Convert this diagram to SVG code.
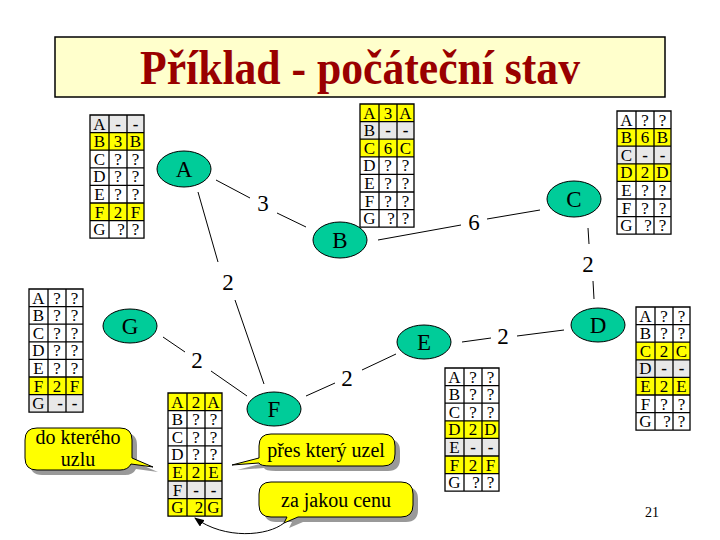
<svg xmlns="http://www.w3.org/2000/svg" width="720" height="540" viewBox="0 0 720 540" font-family="Liberation Serif, Times New Roman, serif">
<style>
.t{font-size:17px;text-anchor:middle;fill:#000}
.d{font-weight:bold}
.grid{fill:none;stroke:#000;stroke-width:1.3}
.y{fill:#ffff00}
.g{fill:#e8e8e8}
.w{fill:#fff}
.node{fill:#00cc99;stroke:#000;stroke-width:1}
.nl{font-size:23px;text-anchor:middle}
.edge{stroke:#000;stroke-width:1;fill:none}
.el{font-size:23px;text-anchor:middle}
.co{fill:#ffff00;stroke:#000;stroke-width:1}
.sh{fill:#999}
.ct{font-size:20px;text-anchor:middle}
</style>
<defs>
<path id="grid" d="M0 0H54V123.2H0Z M19 0V123.2 M37 0V123.2 M0 17.6H54 M0 35.2H54 M0 52.8H54 M0 70.4H54 M0 88H54 M0 105.6H54"/>
<marker id="arr" markerWidth="10" markerHeight="8" refX="9" refY="4" orient="auto" markerUnits="userSpaceOnUse">
<path d="M0 0L10 4L0 8Z" fill="#000"/>
</marker>
</defs>
<rect width="720" height="540" fill="#fff"/>
<g id="title">
<rect x="55" y="37" width="610" height="60" fill="#ffffcc" stroke="#000" stroke-width="1.5"/>
<text x="360" y="84" font-family="Liberation Serif, Times New Roman, serif" font-size="48" font-weight="bold" fill="#990000" text-anchor="middle" textLength="440" lengthAdjust="spacingAndGlyphs">Příklad - počáteční stav</text>
</g>
<g id="connectors">
<line class="edge" x1="216" y1="180" x2="250" y2="198"/>
<line class="edge" x1="277" y1="213" x2="306" y2="227"/>
<text class="el" x="263" y="211">3</text>
<line class="edge" x1="198" y1="192" x2="218" y2="262"/>
<line class="edge" x1="235" y1="300" x2="264" y2="384"/>
<text class="el" x="228" y="290">2</text>
<line class="edge" x1="378" y1="240" x2="461" y2="225"/>
<line class="edge" x1="487" y1="219" x2="540" y2="210"/>
<text class="el" x="474" y="230">6</text>
<line class="edge" x1="588" y1="228" x2="589" y2="244"/>
<line class="edge" x1="593" y1="281" x2="594" y2="299"/>
<text class="el" x="588" y="272">2</text>
<line class="edge" x1="462" y1="342" x2="491" y2="338"/>
<line class="edge" x1="517" y1="336" x2="564" y2="330"/>
<text class="el" x="503" y="344">2</text>
<line class="edge" x1="306" y1="396" x2="335" y2="383"/>
<line class="edge" x1="362" y1="370" x2="396" y2="354"/>
<text class="el" x="347" y="386">2</text>
<line class="edge" x1="163" y1="337" x2="185" y2="352"/>
<line class="edge" x1="211" y1="371" x2="247" y2="396"/>
<text class="el" x="197" y="368">2</text>
</g>
<g id="nodes">
<g id="node-A"><ellipse class="node" cx="184" cy="169" rx="27" ry="18"/><text class="nl" x="184" y="177">A</text></g>
<g id="node-B"><ellipse class="node" cx="340" cy="240" rx="27" ry="18"/><text class="nl" x="340" y="248">B</text></g>
<g id="node-C"><ellipse class="node" cx="574" cy="199" rx="27" ry="18"/><text class="nl" x="574" y="207">C</text></g>
<g id="node-D"><ellipse class="node" cx="598" cy="325" rx="27" ry="17"/><text class="nl" x="598" y="333">D</text></g>
<g id="node-E"><ellipse class="node" cx="424" cy="342" rx="27" ry="17"/><text class="nl" x="424" y="350">E</text></g>
<g id="node-G"><ellipse class="node" cx="130" cy="326" rx="27" ry="17"/><text class="nl" x="130" y="334">G</text></g>
<g id="node-F"><ellipse class="node" cx="274" cy="409" rx="27" ry="17"/><text class="nl" x="274" y="417">F</text></g>
</g>
<g id="tables">
<g id="table-A" transform="translate(90,115)">
<rect class="w" width="54" height="123.2"/>
<rect class="g" y="0" width="54" height="17.6"/>
<rect class="y" y="17.6" width="54" height="17.6"/>
<rect class="y" y="88" width="54" height="17.6"/>
<use href="#grid" class="grid"/>
<text class="t" y="14.5"><tspan x="9.5">A</tspan><tspan x="28" class="d">-</tspan><tspan x="45.5" class="d">-</tspan></text>
<text class="t" y="32.1"><tspan x="9.5">B</tspan><tspan x="28">3</tspan><tspan x="45.5">B</tspan></text>
<text class="t" y="49.7"><tspan x="9.5">C</tspan><tspan x="28">?</tspan><tspan x="45.5">?</tspan></text>
<text class="t" y="67.3"><tspan x="9.5">D</tspan><tspan x="28">?</tspan><tspan x="45.5">?</tspan></text>
<text class="t" y="84.9"><tspan x="9.5">E</tspan><tspan x="28">?</tspan><tspan x="45.5">?</tspan></text>
<text class="t" y="102.5"><tspan x="9.5">F</tspan><tspan x="28">2</tspan><tspan x="45.5">F</tspan></text>
<text class="t" y="120.1"><tspan x="9.5">G</tspan><tspan x="31">?</tspan><tspan x="45.5">?</tspan></text>
</g>

<g id="table-B" transform="translate(360,104)">
<rect class="w" width="54" height="123.2"/>
<rect class="y" y="0" width="54" height="17.6"/>
<rect class="g" y="17.6" width="54" height="17.6"/>
<rect class="y" y="35.2" width="54" height="17.6"/>
<use href="#grid" class="grid"/>
<text class="t" y="14.5"><tspan x="9.5">A</tspan><tspan x="28">3</tspan><tspan x="45.5">A</tspan></text>
<text class="t" y="32.1"><tspan x="9.5">B</tspan><tspan x="28" class="d">-</tspan><tspan x="45.5" class="d">-</tspan></text>
<text class="t" y="49.7"><tspan x="9.5">C</tspan><tspan x="28">6</tspan><tspan x="45.5">C</tspan></text>
<text class="t" y="67.3"><tspan x="9.5">D</tspan><tspan x="28">?</tspan><tspan x="45.5">?</tspan></text>
<text class="t" y="84.9"><tspan x="9.5">E</tspan><tspan x="28">?</tspan><tspan x="45.5">?</tspan></text>
<text class="t" y="102.5"><tspan x="9.5">F</tspan><tspan x="28">?</tspan><tspan x="45.5">?</tspan></text>
<text class="t" y="120.1"><tspan x="9.5">G</tspan><tspan x="31">?</tspan><tspan x="45.5">?</tspan></text>
</g>

<g id="table-C" transform="translate(617,111)">
<rect class="w" width="54" height="123.2"/>
<rect class="y" y="17.6" width="54" height="17.6"/>
<rect class="g" y="35.2" width="54" height="17.6"/>
<rect class="y" y="52.8" width="54" height="17.6"/>
<use href="#grid" class="grid"/>
<text class="t" y="14.5"><tspan x="9.5">A</tspan><tspan x="28">?</tspan><tspan x="45.5">?</tspan></text>
<text class="t" y="32.1"><tspan x="9.5">B</tspan><tspan x="28">6</tspan><tspan x="45.5">B</tspan></text>
<text class="t" y="49.7"><tspan x="9.5">C</tspan><tspan x="28" class="d">-</tspan><tspan x="45.5" class="d">-</tspan></text>
<text class="t" y="67.3"><tspan x="9.5">D</tspan><tspan x="28">2</tspan><tspan x="45.5">D</tspan></text>
<text class="t" y="84.9"><tspan x="9.5">E</tspan><tspan x="28">?</tspan><tspan x="45.5">?</tspan></text>
<text class="t" y="102.5"><tspan x="9.5">F</tspan><tspan x="28">?</tspan><tspan x="45.5">?</tspan></text>
<text class="t" y="120.1"><tspan x="9.5">G</tspan><tspan x="31">?</tspan><tspan x="45.5">?</tspan></text>
</g>

<g id="table-G" transform="translate(29,289)">
<rect class="w" width="54" height="123.2"/>
<rect class="y" y="88" width="54" height="17.6"/>
<rect class="g" y="105.6" width="54" height="17.6"/>
<use href="#grid" class="grid"/>
<text class="t" y="14.5"><tspan x="9.5">A</tspan><tspan x="28">?</tspan><tspan x="45.5">?</tspan></text>
<text class="t" y="32.1"><tspan x="9.5">B</tspan><tspan x="28">?</tspan><tspan x="45.5">?</tspan></text>
<text class="t" y="49.7"><tspan x="9.5">C</tspan><tspan x="28">?</tspan><tspan x="45.5">?</tspan></text>
<text class="t" y="67.3"><tspan x="9.5">D</tspan><tspan x="28">?</tspan><tspan x="45.5">?</tspan></text>
<text class="t" y="84.9"><tspan x="9.5">E</tspan><tspan x="28">?</tspan><tspan x="45.5">?</tspan></text>
<text class="t" y="102.5"><tspan x="9.5">F</tspan><tspan x="28">2</tspan><tspan x="45.5">F</tspan></text>
<text class="t" y="120.1"><tspan x="9.5">G</tspan><tspan x="31" class="d">-</tspan><tspan x="45.5" class="d">-</tspan></text>
</g>

<g id="table-D" transform="translate(636,307)">
<rect class="w" width="54" height="123.2"/>
<rect class="y" y="35.2" width="54" height="17.6"/>
<rect class="g" y="52.8" width="54" height="17.6"/>
<rect class="y" y="70.4" width="54" height="17.6"/>
<use href="#grid" class="grid"/>
<text class="t" y="14.5"><tspan x="9.5">A</tspan><tspan x="28">?</tspan><tspan x="45.5">?</tspan></text>
<text class="t" y="32.1"><tspan x="9.5">B</tspan><tspan x="28">?</tspan><tspan x="45.5">?</tspan></text>
<text class="t" y="49.7"><tspan x="9.5">C</tspan><tspan x="28">2</tspan><tspan x="45.5">C</tspan></text>
<text class="t" y="67.3"><tspan x="9.5">D</tspan><tspan x="28" class="d">-</tspan><tspan x="45.5" class="d">-</tspan></text>
<text class="t" y="84.9"><tspan x="9.5">E</tspan><tspan x="28">2</tspan><tspan x="45.5">E</tspan></text>
<text class="t" y="102.5"><tspan x="9.5">F</tspan><tspan x="28">?</tspan><tspan x="45.5">?</tspan></text>
<text class="t" y="120.1"><tspan x="9.5">G</tspan><tspan x="31">?</tspan><tspan x="45.5">?</tspan></text>
</g>

<g id="table-E" transform="translate(445,368)">
<rect class="w" width="54" height="123.2"/>
<rect class="y" y="52.8" width="54" height="17.6"/>
<rect class="g" y="70.4" width="54" height="17.6"/>
<rect class="y" y="88" width="54" height="17.6"/>
<use href="#grid" class="grid"/>
<text class="t" y="14.5"><tspan x="9.5">A</tspan><tspan x="28">?</tspan><tspan x="45.5">?</tspan></text>
<text class="t" y="32.1"><tspan x="9.5">B</tspan><tspan x="28">?</tspan><tspan x="45.5">?</tspan></text>
<text class="t" y="49.7"><tspan x="9.5">C</tspan><tspan x="28">?</tspan><tspan x="45.5">?</tspan></text>
<text class="t" y="67.3"><tspan x="9.5">D</tspan><tspan x="28">2</tspan><tspan x="45.5">D</tspan></text>
<text class="t" y="84.9"><tspan x="9.5">E</tspan><tspan x="28" class="d">-</tspan><tspan x="45.5" class="d">-</tspan></text>
<text class="t" y="102.5"><tspan x="9.5">F</tspan><tspan x="28">2</tspan><tspan x="45.5">F</tspan></text>
<text class="t" y="120.1"><tspan x="9.5">G</tspan><tspan x="31">?</tspan><tspan x="45.5">?</tspan></text>
</g>

<g id="table-F" transform="translate(168,393)">
<rect class="w" width="54" height="123.2"/>
<rect class="y" y="0" width="54" height="17.6"/>
<rect class="y" y="70.4" width="54" height="17.6"/>
<rect class="g" y="88" width="54" height="17.6"/>
<rect class="y" y="105.6" width="54" height="17.6"/>
<use href="#grid" class="grid"/>
<text class="t" y="14.5"><tspan x="9.5">A</tspan><tspan x="28">2</tspan><tspan x="45.5">A</tspan></text>
<text class="t" y="32.1"><tspan x="9.5">B</tspan><tspan x="28">?</tspan><tspan x="45.5">?</tspan></text>
<text class="t" y="49.7"><tspan x="9.5">C</tspan><tspan x="28">?</tspan><tspan x="45.5">?</tspan></text>
<text class="t" y="67.3"><tspan x="9.5">D</tspan><tspan x="28">?</tspan><tspan x="45.5">?</tspan></text>
<text class="t" y="84.9"><tspan x="9.5">E</tspan><tspan x="28">2</tspan><tspan x="45.5">E</tspan></text>
<text class="t" y="102.5"><tspan x="9.5">F</tspan><tspan x="28" class="d">-</tspan><tspan x="45.5" class="d">-</tspan></text>
<text class="t" y="120.1"><tspan x="9.5">G</tspan><tspan x="31">2</tspan><tspan x="45.5">G</tspan></text>
</g>
</g>

<g id="callouts">
<g id="callout-1">
<path class="sh" transform="translate(5,5)" d="M37,428 H120 Q132,428 132,440 V458 L153,467 L131,464 Q128,470 120,470 H37 Q25,470 25,458 V440 Q25,428 37,428 Z"/>
<path class="co" d="M37,428 H120 Q132,428 132,440 V458 L153,467 L131,464 Q128,470 120,470 H37 Q25,470 25,458 V440 Q25,428 37,428 Z"/>
<text class="ct" x="78" y="444">do kterého</text>
<text class="ct" x="78" y="466">uzlu</text>
</g>
<g id="callout-2">
<path class="sh" transform="translate(5,5)" d="M271,434 H383 Q395,434 395,446 V454 Q395,466 383,466 H271 Q260,466 259,463 L232,465 L259,458 V446 Q259,434 271,434 Z"/>
<path class="co" d="M271,434 H383 Q395,434 395,446 V454 Q395,466 383,466 H271 Q260,466 259,463 L232,465 L259,458 V446 Q259,434 271,434 Z"/>
<text class="ct" x="326" y="457">přes který uzel</text>
</g>
<g id="callout-3">
<path class="sh" transform="translate(5,5)" d="M271,482 H401 Q413,482 413,494 V505 Q413,517 401,517 H298 L284,523 L287,517 H271 Q259,517 259,505 V494 Q259,482 271,482 Z"/>
<path class="co" d="M271,482 H401 Q413,482 413,494 V505 Q413,517 401,517 H298 L284,523 L287,517 H271 Q259,517 259,505 V494 Q259,482 271,482 Z"/>
<text class="ct" x="336" y="507">za jakou cenu</text>
<path class="edge" d="M284,523 C268,536 225,540 195,518" marker-end="url(#arr)"/>
</g>
</g>
<text x="652" y="517" font-size="14" text-anchor="middle">21</text>
</svg>
